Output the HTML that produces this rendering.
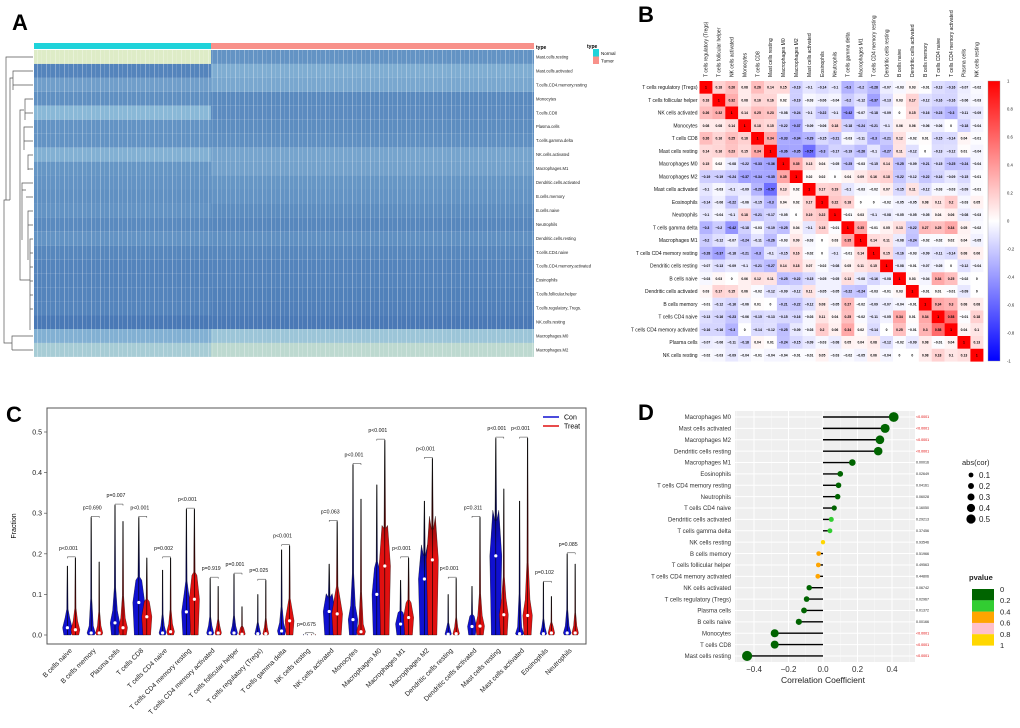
<!DOCTYPE html>
<html><head><meta charset="utf-8"><style>
html,body{margin:0;padding:0;background:#fff}
svg{display:block;font-family:"Liberation Sans",Arial,sans-serif}
</style></head><body>
<svg id="fig" width="1020" height="728" viewBox="0 0 1020 728">
<defs>
<linearGradient id="cbarB" x1="0" y1="0" x2="0" y2="1"><stop offset="0" stop-color="#ff0000"/><stop offset="0.5" stop-color="#ffffff"/><stop offset="1" stop-color="#0000ff"/></linearGradient>
<pattern id="stripes" width="9" height="10" patternUnits="userSpaceOnUse"><rect x="1" width="1" height="10" fill="rgba(255,255,255,0.3)"/><rect x="5" width="0.8" height="10" fill="rgba(255,255,255,0.18)"/></pattern>
<linearGradient id="vioCon" x1="0" y1="1" x2="0" y2="0"><stop offset="0" stop-color="#1010d0"/><stop offset="0.45" stop-color="#1010d0"/><stop offset="1" stop-color="#000"/></linearGradient>
<linearGradient id="vioTreat" x1="0" y1="1" x2="0" y2="0"><stop offset="0" stop-color="#e01010"/><stop offset="0.45" stop-color="#e01010"/><stop offset="1" stop-color="#000"/></linearGradient>
</defs>
<text x="12" y="30" font-size="22" font-weight="bold">A</text>
<text x="638" y="22" font-size="22" font-weight="bold">B</text>
<text x="6" y="422" font-size="22" font-weight="bold">C</text>
<text x="638" y="420" font-size="22" font-weight="bold">D</text>
<g id="pA"></g>
<g id="pB"></g>
<g id="pC"></g>
<g id="pD"></g>
</svg>
<script>
const NS="http://www.w3.org/2000/svg";
function mk(parent,tag,attrs,txt){const e=document.createElementNS(NS,tag);for(const k in attrs)e.setAttribute(k,attrs[k]);if(txt!==undefined)e.textContent=txt;parent.appendChild(e);return e;}

/* ---------- Panel A data ---------- */
const heatRows=["Mast.cells.resting","Mast.cells.activated","T.cells.CD4.memory.resting","Monocytes","T.cells.CD8","Plasma.cells","T.cells.gamma.delta","NK.cells.activated","Macrophages.M1","Dendritic.cells.activated","B.cells.memory","B.cells.naive","Neutrophils","Dendritic.cells.resting","T.cells.CD4.naive","T.cells.CD4.memory.activated","Eosinophils","T.cells.follicular.helper","T.cells.regulatory..Tregs.","NK.cells.resting","Macrophages.M0","Macrophages.M2"];
const heatNormal=[-0.15,-0.9,-0.72,-0.82,-0.55,-0.8,-0.8,-0.6,-0.78,-0.8,-0.82,-0.8,-0.86,-0.8,-0.88,-0.9,-0.9,-0.9,-0.9,-0.97,-0.6,-0.4];
const heatTumor=[-0.8,-0.62,-0.66,-0.86,-0.85,-0.84,-0.82,-0.68,-0.7,-0.78,-0.8,-0.84,-0.88,-0.82,-0.88,-0.9,-0.9,-0.92,-0.93,-0.97,-0.45,-0.3];

/* ---------- Panel B data ---------- */
const corNames=["T cells regulatory (Tregs)","T cells follicular helper","NK cells activated","Monocytes","T cells CD8","Mast cells resting","Macrophages M0","Macrophages M2","Mast cells activated","Eosinophils","Neutrophils","T cells gamma delta","Macrophages M1","T cells CD4 memory resting","Dendritic cells resting","B cells naive","Dendritic cells activated","B cells memory","T cells CD4 naive","T cells CD4 memory activated","Plasma cells","NK cells resting"];
const corUpper=[
[1,.18,.26,.08,.26,.14,.15,-.19,-.1,-.14,-.1,-.3,-.2,-.28,-.07,-.03,.03,-.01,-.13,-.16,-.07,-.02],
[1,.32,.08,.16,.16,.02,-.19,-.03,-.06,-.04,-.2,-.12,-.37,-.13,.03,.17,-.12,-.16,-.16,-.06,-.03],
[1,.14,.25,.23,-.08,-.24,-.1,-.22,-.1,-.42,-.07,-.18,-.09,0,.15,-.16,-.23,-.3,-.11,-.09],
[1,.18,.15,-.22,-.37,-.09,-.06,.18,-.18,-.24,-.21,-.1,.06,.06,-.06,-.06,0,-.18,-.04],
[1,.34,-.33,-.34,-.29,-.15,-.21,-.03,-.11,-.3,-.21,.12,-.02,.01,-.15,-.14,.04,-.01],
[1,-.36,-.35,-.57,-.3,-.17,-.19,-.26,-.1,-.27,.11,-.12,0,-.13,-.12,.01,-.04],
[1,.35,.13,.04,-.05,-.25,-.03,-.15,.14,-.25,-.09,-.21,-.15,-.25,-.24,-.04],
[1,.02,.02,0,.04,.09,.16,.18,-.22,-.12,-.22,-.16,-.09,-.15,-.01],
[1,.17,.19,-.1,-.03,-.02,.07,-.15,.11,-.12,-.03,-.03,-.09,-.01],
[1,.22,.18,0,0,-.02,-.05,-.05,.08,.11,.2,-.03,.05],
[1,-.01,.03,-.1,-.08,-.05,-.05,-.05,.04,.06,-.08,-.03],
[1,.35,-.01,.05,.13,-.22,.27,.25,.34,.05,-.02],
[1,.14,.11,-.08,-.24,-.02,-.02,.02,.04,-.05],
[1,.15,-.16,-.03,-.09,-.11,-.14,.08,.06],
[1,-.08,-.01,-.07,-.05,0,-.12,-.04],
[1,.03,-.04,.34,.25,-.02,0],
[1,-.01,.01,-.01,-.09,0],
[1,.34,.3,.08,.08],
[1,.58,-.01,.18],
[1,.04,.1],
[1,.13],
[1]];
const corTicks=[1,0.8,0.6,0.4,0.2,0,-0.2,-0.4,-0.6,-0.8,-1];

/* ---------- Panel C data ---------- */
const vioGroups=["B cells naive","B cells memory","Plasma cells","T cells CD8","T cells CD4 naive","T cells CD4 memory resting","T cells CD4 memory activated","T cells follicular helper","T cells regulatory (Tregs)","T cells gamma delta","NK cells resting","NK cells activated","Monocytes","Macrophages M0","Macrophages M1","Macrophages M2","Dendritic cells resting","Dendritic cells activated","Mast cells resting","Mast cells activated","Eosinophils","Neutrophils"];
const conMedian=[.018,.005,.03,.08,.005,.057,.005,.005,.003,.01,0,.058,.038,.1,.027,.138,.002,.021,.195,.003,.003,.005];
const conMax=[.17,.29,.32,.29,.16,.31,.14,.15,.1,.21,.003,.175,.42,.37,.135,.33,.1,.12,.485,.33,.13,.2];
const treatMedian=[.013,.005,.018,.045,.008,.088,.005,.002,.003,.035,0,.052,.008,.17,.043,.185,.003,.022,.05,.048,.005,.005];
const treatMax=[.19,.18,.28,.19,.19,.31,.12,.07,.135,.22,.003,.28,.335,.48,.19,.435,.14,.29,.36,.485,.095,.175];
const pValueText=["p<0.001","p=0.690","p=0.007","p<0.001","p=0.002","p<0.001","p=0.919","p=0.001","p=0.025","p<0.001","p=0.675","p=0.063","p<0.001","p<0.001","p<0.001","p<0.001","p<0.001","p=0.311","p<0.001","p<0.001","p=0.102","p=0.085"];
const conSpread=[.8,.7,.8,1,.6,.8,.6,.6,.5,.7,.4,1,.8,.8,.85,1,.55,.75,1,.7,.55,.65];
const treatSpread=[.75,.6,.75,.85,.65,.85,.55,.55,.5,.75,.4,.9,.75,.95,.85,1,.55,.75,.75,.8,.55,.55];
const cTicks=[0,0.1,0.2,0.3,0.4,0.5];

/* ---------- Panel D data ---------- */
const lolNames=["Macrophages M0","Mast cells activated","Macrophages M2","Dendritic cells resting","Macrophages M1","Eosinophils","T cells CD4 memory resting","Neutrophils","T cells CD4 naive","Dendritic cells activated","T cells gamma delta","NK cells resting","B cells memory","T cells follicular helper","T cells CD4 memory activated","NK cells activated","T cells regulatory (Tregs)","Plasma cells","B cells naive","Monocytes","T cells CD8","Mast cells resting"];
const lolCor=[.41,.36,.33,.32,.17,.10,.09,.085,.065,.048,.04,0,-.025,-.027,-.03,-.08,-.095,-.11,-.14,-.28,-.28,-.44];
const lolP=[0.00001,0.00001,0.00001,0.00001,0.00016,0.02649,0.04161,0.06028,0.16050,0.29213,0.37456,0.93546,0.51966,0.49563,0.44806,0.06742,0.02967,0.01372,0.00166,0.00001,0.00001,0.00001];
const lolPText=["<0.0001","<0.0001","<0.0001","<0.0001","0.00016","0.02649","0.04161","0.06028","0.16050","0.29213","0.37456","0.93546","0.51966","0.49563","0.44806","0.06742","0.02967","0.01372","0.00166","<0.0001","<0.0001","<0.0001"];
const dTicks=[-0.4,-0.2,0,0.2,0.4];
const sizeLegend=[0.1,0.2,0.3,0.4,0.5];
const pLegendLabels=["0","0.2","0.4","0.6","0.8","1"];

/* ================= Panel A ================= */
(function(){
const g=document.getElementById("pA");
const x0=34,x1=534,xs=211,y0=50,rh=13.95;
function heatColor(v){const stops=[[-1,[69,117,180]],[-0.5,[145,191,219]],[0,[255,255,191]],[0.5,[252,141,89]],[1,[215,48,39]]];
 for(let i=0;i<stops.length-1;i++){const a=stops[i],b=stops[i+1];if(v<=b[0]){const t=(v-a[0])/(b[0]-a[0]);return "rgb("+a[1].map((c,k)=>Math.round(c+(b[1][k]-c)*t)).join(",")+")";}}return "rgb(215,48,39)";}
let r=mk(g,"rect",{x:x0,y:43,width:xs-x0,height:6,fill:"#1fd3da"});


r=mk(g,"rect",{x:xs,y:43,width:x1-xs,height:6,fill:"#f8918a"});


let t=mk(g,"text",{x:536,y:49,"font-size":5,"font-weight":"bold"},"type");


heatRows.forEach((name,i)=>{
 const y=y0+i*rh;
 let a=mk(g,"rect",{x:x0,y:y,width:xs-x0,height:rh,fill:heatColor(heatNormal[i])});
 
 
 let b=mk(g,"rect",{x:xs,y:y,width:x1-xs,height:rh,fill:heatColor(heatTumor[i])});
 
 
 let l=mk(g,"text",{x:536,y:y+rh/2+1.5,"font-size":4.2,fill:"#222"},name);
 
 
});
let ov=mk(g,"rect",{x:x0,y:y0,width:x1-x0,height:22*rh,fill:"url(#stripes)"});


const d="M33,57 H6 V200 H10 M33,71 H13 V90 M33,85 H13 M13,78 H10 V200 M33,99 H25 V120 M33,113 H25 M33,127 H24 V150 M33,141 H24 M24,110 H20 V200 M33,155 H28 V170 M33,169 H28 M33,183 H22 V240 M33,197 H26 M26,190 H22 M33,211 H28 V260 M33,225 H28 M33,239 H30 V330 M33,253 H30 M33,267 H30 M33,281 H30 M33,295 H30 M33,309 H30 M30,280 H20 V200 M33,336 H12 V350 M33,350 H12 M10,200 H4 V343 H12";
let dg=mk(g,"path",{d:d,fill:"none",stroke:"#555","stroke-width":0.7});


t=mk(g,"text",{x:587,y:48,"font-size":5,"font-weight":"bold"},"type");


[["Normal","#1fd3da"],["Tumor","#f8918a"]].forEach((e,i)=>{
 let s=mk(g,"rect",{x:593,y:49+i*7.5,width:6,height:7.5,fill:e[1]});
 
 
 let tx=mk(g,"text",{x:601,y:55+i*7.5,"font-size":4.5},e[0]);
 
 
});
})();

/* ================= Panel B ================= */
(function(){
const g=document.getElementById("pB");
const left=699.5,top=81,cw=12.9,ch=12.75,n=corNames.length;
function corAt(i,j){return i<=j?corUpper[i][j-i]:corUpper[j][i-j];}
function corColor(v){const a=Math.abs(v);const c=Math.round(255*(1-a));return v>=0?"rgb(255,"+c+","+c+")":"rgb("+c+","+c+",255)";}
for(let i=0;i<n;i++){
 let rl=mk(g,"text",{x:left-2,y:top+i*ch+ch/2+1.8,"font-size":5,"text-anchor":"end",fill:"#111"},corNames[i]);
 
 
 const cx=left+i*cw+cw/2+1.7;
 let cl=mk(g,"text",{x:0,y:0,"font-size":5,transform:"translate("+cx+",77) rotate(-90)",fill:"#111"},corNames[i]);
 
 
 for(let j=0;j<n;j++){
  const v=corAt(i,j);
  let c=mk(g,"rect",{x:left+j*cw,y:top+i*ch,width:cw+0.1,height:ch+0.1,fill:corColor(v)});
  
  
  let tv=mk(g,"text",{x:left+j*cw+cw/2,y:top+i*ch+ch/2+1.2,"font-size":3.4,"font-weight":"bold","text-anchor":"middle",fill:"#000"},(v===1?"1":String(v).replace("-","\u2212")));
  
  
 }
}
let cb=mk(g,"rect",{x:988,y:81,width:12,height:280,fill:"url(#cbarB)",stroke:"#999","stroke-width":0.4});


corTicks.forEach(v=>{
 const y=81+(1-v)/2*280;
 let tk=mk(g,"text",{x:1007,y:y+1.5,"font-size":4.2,fill:"#222"},String(v));
 
 
});
})();

/* ================= Panel C ================= */
(function(){
const g=document.getElementById("pC");
const yC=v=>635-406*v, xC=i=>71.4+i*23.8;
let box=mk(g,"rect",{x:47,y:408,width:539,height:236,fill:"none",stroke:"#555","stroke-width":1});


cTicks.forEach(v=>{
 let l=mk(g,"line",{x1:44,x2:47,y1:yC(v),y2:yC(v),stroke:"#555","stroke-width":0.7});
 
 
 let t=mk(g,"text",{x:42,y:yC(v)+2.5,"font-size":7,"text-anchor":"end",fill:"#222"},v.toFixed(1));
 
 
});
let yt=mk(g,"text",{x:0,y:0,"font-size":7,"text-anchor":"middle",transform:"translate(16,526) rotate(-90)"},"Fraction");


function violin(cx,med,mx,spread){
 const w=6*spread;
 const pts=[[0,w*0.75],[med,w],[Math.min(mx,med*1.5+0.015),w*0.5],[med+(mx-med)*0.3,w*0.15],[mx,0.3]];
 let right=pts.map(p=>(cx+p[1])+","+yC(p[0]));
 let leftS=pts.slice().reverse().map(p=>(cx-p[1])+","+yC(p[0]));
 return "M"+right.join(" L")+" L"+leftS.join(" L")+"Z";
}
vioGroups.forEach((name,i)=>{
 const c=xC(i),cxA=c-4,cxB=c+4;
 [[cxA,conMedian[i],conMax[i],conSpread[i],"url(#vioCon)","violin-con"],[cxB,treatMedian[i],treatMax[i],treatSpread[i],"url(#vioTreat)","violin-treat"]].forEach(s=>{
  let p=mk(g,"path",{d:violin(s[0],s[1],s[2],s[3]),fill:s[4],stroke:"#000","stroke-width":0.3});
  
  
  let ln=mk(g,"line",{x1:s[0],x2:s[0],y1:yC(0),y2:yC(s[2]),stroke:"#000","stroke-width":0.6});
  
  
  let dot=mk(g,"circle",{cx:s[0],cy:yC(s[1]),r:1.6,fill:"#fff"});
  
  
 });
 const top=Math.max(conMax[i],treatMax[i]);
 const by=yC(top)-1;
 let br=mk(g,"path",{d:"M"+cxA+","+(by+1.5)+" V"+by+" H"+cxB+" V"+(by+1.5),fill:"none",stroke:"#333","stroke-width":0.5});
 
 
 let pt=mk(g,"text",{x:c-3,y:by-7,"font-size":5.2,"text-anchor":"middle",fill:"#111"},pValueText[i]);
 
 
 let xl=mk(g,"text",{x:0,y:0,"font-size":6.8,"text-anchor":"end",fill:"#222",transform:"translate("+(c+1)+",651) rotate(-45)"},name);
 
 
});
[["Con","#1010d0",417],["Treat","#e01010",426]].forEach(e=>{
 let l=mk(g,"line",{x1:543,x2:559,y1:e[2],y2:e[2],stroke:e[1],"stroke-width":1.5});
 
 
 let t=mk(g,"text",{x:564,y:e[2]+2.5,"font-size":7},e[0]);
 
 
});
})();

/* ================= Panel D ================= */
(function(){
const g=document.getElementById("pD");
const xD=v=>823+v*172.5, yD=i=>417+i*11.38;
const rad=v=>2.2+6.5*Math.abs(v);
function pColor(p){return p<0.2?"#006400":p<0.4?"#32cd32":p<0.6?"#ffa500":p<0.8?"#ffc0cb":"#ffd700";}
let bg=mk(g,"rect",{x:735,y:411,width:180,height:251,fill:"#efefef"});


[-0.5,-0.3,-0.1,0.1,0.3,0.5].forEach(v=>{if(xD(v)>735&&xD(v)<915){let l=mk(g,"line",{x1:xD(v),x2:xD(v),y1:411,y2:662,stroke:"#f8f8f8","stroke-width":0.5});}});
dTicks.forEach(v=>{
 let l=mk(g,"line",{x1:xD(v),x2:xD(v),y1:411,y2:662,stroke:"#fff","stroke-width":1});
 
 
 let t=mk(g,"text",{x:xD(v),y:672,"font-size":8,"text-anchor":"middle",fill:"#333"},(v<0?"\u2212":"")+Math.abs(v).toFixed(1));
 
 
});
lolNames.forEach((n,i)=>{
 let h=mk(g,"line",{x1:735,x2:915,y1:yD(i),y2:yD(i),stroke:"#fff","stroke-width":1});
 
 
});
lolNames.forEach((n,i)=>{
 const y=yD(i);
 let lb=mk(g,"text",{x:731,y:y+2.2,"font-size":6,"text-anchor":"end",fill:"#333"},n);
 
 
 let st=mk(g,"line",{x1:xD(0),x2:xD(lolCor[i]),y1:y,y2:y,stroke:"#000","stroke-width":1.4});
 
 
 let c=mk(g,"circle",{cx:xD(lolCor[i]),cy:y,r:rad(lolCor[i]),fill:pColor(lolP[i])});
 
 
 let pt=mk(g,"text",{x:916,y:y+1.2,"font-size":3.6,fill:lolPText[i][0]==="<"?"#e00000":"#222"},lolPText[i]);
 
 
});
let xt=mk(g,"text",{x:823,y:683,"font-size":8.5,"text-anchor":"middle",fill:"#222"},"Correlation Coefficient");


let st=mk(g,"text",{x:962,y:465,"font-size":7.5,fill:"#222"},"abs(cor)");


sizeLegend.forEach((v,i)=>{
 const y=475+i*11;
 let c=mk(g,"circle",{cx:971,cy:y,r:rad(v)*0.85,fill:"#000"});
 
 
 let t=mk(g,"text",{x:979,y:y+3,"font-size":8,fill:"#222"},String(v));
 
 
});
let pt=mk(g,"text",{x:969,y:580,"font-size":7.5,"font-weight":"bold",fill:"#222"},"pvalue");


["#006400","#32cd32","#ffa500","#ffc0cb","#ffd700"].forEach((col,i)=>{
 let r=mk(g,"rect",{x:972,y:589+i*11.3,width:22,height:11.4,fill:col});
 
 
});
pLegendLabels.forEach((l,i)=>{
 let t=mk(g,"text",{x:1000,y:592+i*11.2,"font-size":7.5,fill:"#222"},l);
 
 
});
})();
</script>
</body></html>
